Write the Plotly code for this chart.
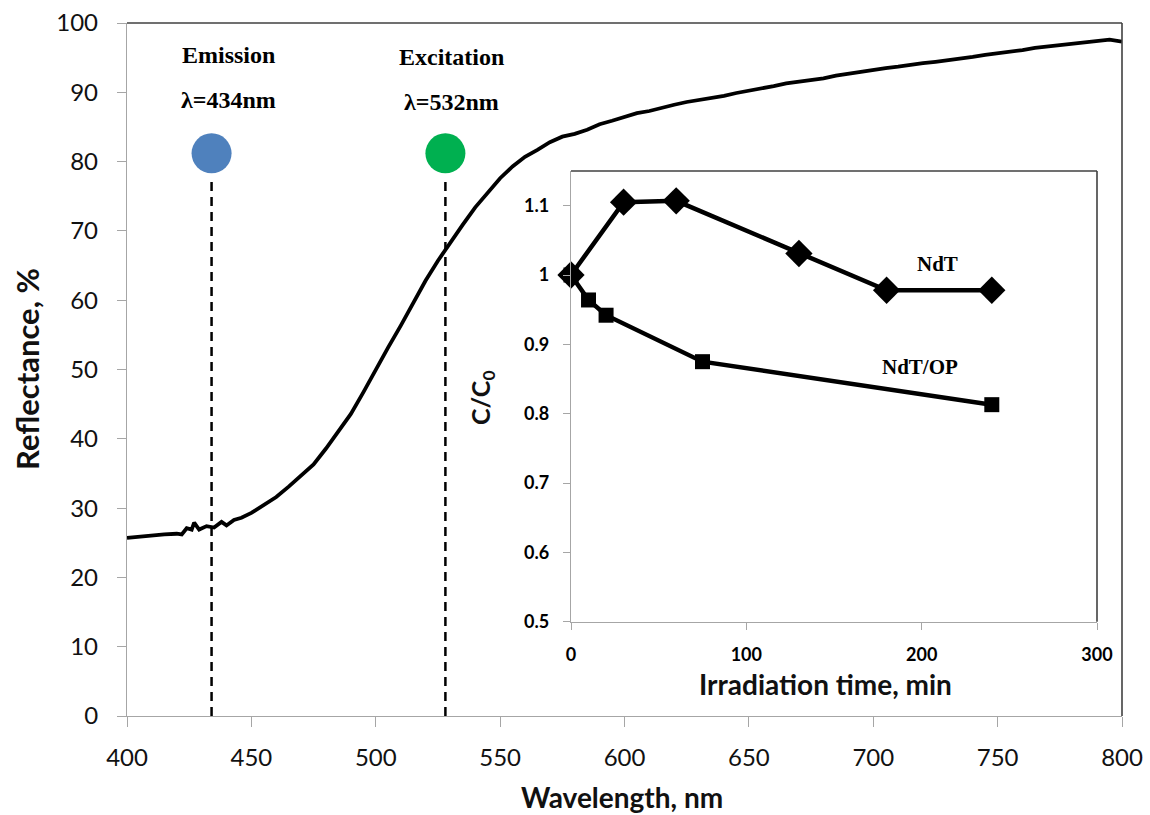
import plotly.graph_objects as go

# ---------------- data ----------------
wavelength = [400, 405, 410, 415, 420, 422, 424, 426, 427, 429, 432, 435, 438, 440, 443, 446,
              450, 455, 460, 465, 470, 475, 480, 485, 490, 495, 500, 505, 510, 515, 520, 525,
              530, 535, 540, 545, 550, 555, 560, 565, 570, 575, 580, 585, 590, 595, 600, 605,
              610, 615, 620, 625, 630, 635, 640, 645, 650, 655, 660, 665, 670, 675, 680, 685,
              690, 695, 700, 705, 710, 715, 720, 725, 730, 735, 740, 745, 750, 755, 760, 765,
              770, 775, 780, 785, 790, 795, 800]
reflectance = [25.7, 25.9, 26.1, 26.2, 26.3, 26.2, 27.1, 26.9, 27.9, 26.9, 27.4, 27.2, 28.0, 27.5, 28.3, 28.6,
               29.3, 30.4, 31.6, 33.1, 34.7, 36.3, 38.6, 41.0, 43.6, 46.7, 50.0, 53.2, 56.3, 59.6, 62.8, 65.7,
               68.4, 70.9, 73.4, 75.6, 77.6, 79.3, 80.7, 81.7, 82.8, 83.6, 84.0, 84.6, 85.4, 85.9, 86.4, 87.0,
               87.3, 87.8, 88.2, 88.6, 88.9, 89.1, 89.5, 89.9, 90.2, 90.6, 90.9, 91.3, 91.5, 91.8, 92.0, 92.4,
               92.7, 93.0, 93.2, 93.5, 93.7, 94.0, 94.2, 94.4, 94.6, 94.8, 95.1, 95.4, 95.6, 95.9, 96.1, 96.4,
               96.6, 96.8, 97.0, 97.2, 97.5, 97.6, 97.3]

marker_names = ["Emission", "Excitation"]
marker_labels = ["λ=434nm", "λ=532nm"]
marker_x = [434, 528]
marker_y = [81.2, 81.2]
marker_colors = ["#4F81BD", "#00B050"]
dash_top = 77.5

ndt_time = [0, 30, 60, 130, 180, 240]
ndt_c = [1.0, 1.105, 1.107, 1.031, 0.978, 0.978]
ndtop_time = [0, 10, 20, 75, 240]
ndtop_c = [1.0, 0.964, 0.942, 0.875, 0.813]

main_xticks = [400, 450, 500, 550, 600, 650, 700, 750, 800]
main_yticks = [0, 10, 20, 30, 40, 50, 60, 70, 80, 90, 100]
inset_xticks = [0, 100, 200, 300]
inset_yticks = [0.5, 0.6, 0.7, 0.8, 0.9, 1.0, 1.1]
inset_yticktext = ["0.5", "0.6", "0.7", "0.8", "0.9", "1", "1.1"]

# ---------------- figure ----------------
W, H = 1150, 815
L, R, T, B = 127, 28, 23, 99
pw, ph = W - L - R, H - T - B

def px_x(x):
    return (x - L) / pw

def px_y(y):
    return (H - B - y) / ph

AX_GRAY = "#A6A6A6"
FRAME = "#404040"
TICKFONT = dict(family="Lato, sans-serif", size=24, color="#111111")
SERIF = "Liberation Serif, Times New Roman, serif"

fig = go.Figure()

# main spectrum
fig.add_trace(go.Scatter(x=wavelength, y=reflectance, mode="lines",
                         line=dict(color="black", width=3.8), xaxis="x", yaxis="y",
                         showlegend=False, hoverinfo="skip"))

# dashed verticals
for xv in marker_x:
    fig.add_trace(go.Scatter(x=[xv, xv], y=[0, dash_top], mode="lines",
                             line=dict(color="black", width=2.5, dash="9px,6px"),
                             xaxis="x", yaxis="y", showlegend=False, hoverinfo="skip"))

# circles
fig.add_trace(go.Scatter(x=marker_x, y=marker_y, mode="markers",
                         marker=dict(size=40, color=marker_colors, line=dict(width=0)),
                         xaxis="x", yaxis="y", showlegend=False, hoverinfo="skip"))

# inset series
fig.add_trace(go.Scatter(x=ndt_time, y=ndt_c, mode="lines+markers",
                         line=dict(color="black", width=4.5),
                         marker=dict(symbol="diamond", size=21, color="black"),
                         xaxis="x2", yaxis="y2", showlegend=False, cliponaxis=False))
fig.add_trace(go.Scatter(x=ndtop_time, y=ndtop_c, mode="lines+markers",
                         line=dict(color="black", width=4.5),
                         marker=dict(symbol="square", size=15, color="black"),
                         xaxis="x2", yaxis="y2", showlegend=False, cliponaxis=False))

axis_common = dict(showgrid=False, zeroline=False, showline=True, linecolor=AX_GRAY,
                   linewidth=1.3, ticks="outside", tickcolor=AX_GRAY, tickwidth=1.3,
                   automargin=False)

in_x0, in_x1 = px_x(571), px_x(1097)
in_y0, in_y1 = px_y(621.7), px_y(171)

INSET_TICKFONT = dict(family="Lato, sans-serif", size=18, color="black", weight="bold")

fig.update_layout(
    width=W, height=H,
    margin=dict(l=L, r=R, t=T, b=B, autoexpand=False),
    paper_bgcolor="white", plot_bgcolor="white",
    xaxis=dict(range=[400, 800], tickvals=main_xticks, ticklen=10,
               tickfont=TICKFONT, ticklabelstandoff=10, domain=[0, 1], anchor="y",
               **axis_common),
    yaxis=dict(range=[0, 100], tickvals=main_yticks, ticklen=9,
               tickfont=TICKFONT, ticklabelstandoff=14, domain=[0, 1], anchor="x",
               **axis_common),
    xaxis2=dict(range=[0, 300], tickvals=inset_xticks, ticklen=7,
                tickfont=INSET_TICKFONT,
                ticklabelstandoff=10, domain=[in_x0, in_x1], anchor="y2",
                **axis_common),
    yaxis2=dict(range=[0.5, 1.15], tickvals=inset_yticks, ticktext=inset_yticktext, ticklen=7,
                tickfont=INSET_TICKFONT,
                ticklabelstandoff=10, domain=[in_y0, in_y1], anchor="x2",
                **axis_common),
)

# frames (top/right dark borders)
shapes = [
    dict(type="line", xref="paper", yref="paper", x0=0, x1=1, y0=1, y1=1,
         line=dict(color=FRAME, width=1.6)),
    dict(type="line", xref="paper", yref="paper", x0=1, x1=1, y0=0, y1=1,
         line=dict(color=FRAME, width=1.6)),
    dict(type="line", xref="x2 domain", yref="y2 domain", x0=0, x1=1, y0=1, y1=1,
         line=dict(color=FRAME, width=1.6)),
    dict(type="line", xref="x2 domain", yref="y2 domain", x0=1, x1=1, y0=0, y1=1,
         line=dict(color=FRAME, width=1.6)),
]
fig.update_layout(shapes=shapes)

ann = []
# marker labels
name_y = [95.4, 95.1]
lab_y = [88.9, 88.6]
text_x = [440.8, 530.5]
for nm, lb, tx, ny, ly in zip(marker_names, marker_labels, text_x, name_y, lab_y):
    ann.append(dict(x=tx, y=ny, xref="x", yref="y", text=f"<b>{nm}</b>", showarrow=False,
                    font=dict(family=SERIF, size=24, color="black"), xanchor="center", yanchor="middle"))
    ann.append(dict(x=tx, y=ly, xref="x", yref="y", text=f"<b>{lb}</b>", showarrow=False,
                    font=dict(family=SERIF, size=24, color="black"), xanchor="center", yanchor="middle"))
# inset series labels
ann.append(dict(x=209, y=1.016, xref="x2", yref="y2", text="<b>NdT</b>", showarrow=False,
                font=dict(family=SERIF, size=21, color="black"), xanchor="center", yanchor="middle"))
ann.append(dict(x=199, y=0.867, xref="x2", yref="y2", text="<b>NdT/OP</b>", showarrow=False,
                font=dict(family=SERIF, size=21, color="black"), xanchor="center", yanchor="middle"))
# axis titles
ann.append(dict(x=px_x(622), y=px_y(797), xref="paper", yref="paper", text="Wavelength, nm",
                showarrow=False, font=dict(family="Lato, sans-serif", size=28, color="#111111", weight="bold"),
                xanchor="center", yanchor="middle"))
ann.append(dict(x=px_x(27), y=px_y(369), xref="paper", yref="paper", text="Reflectance, %",
                showarrow=False, font=dict(family="Lato, sans-serif", size=31, color="#111111", weight="bold"),
                textangle=-90, xanchor="center", yanchor="middle"))
ann.append(dict(x=px_x(825), y=px_y(684), xref="paper", yref="paper", text="Irradiation time, min",
                showarrow=False, font=dict(family="Lato, sans-serif", size=28, color="#111111", weight="bold"),
                xanchor="center", yanchor="middle"))
ann.append(dict(x=px_x(482), y=px_y(398), xref="paper", yref="paper", text="C/C<sub>0</sub>",
                showarrow=False, font=dict(family="Lato, sans-serif", size=25, color="#111111", weight="bold"),
                textangle=-90, xanchor="center", yanchor="middle"))
fig.update_layout(annotations=ann)

fig.write_html("out.html")
